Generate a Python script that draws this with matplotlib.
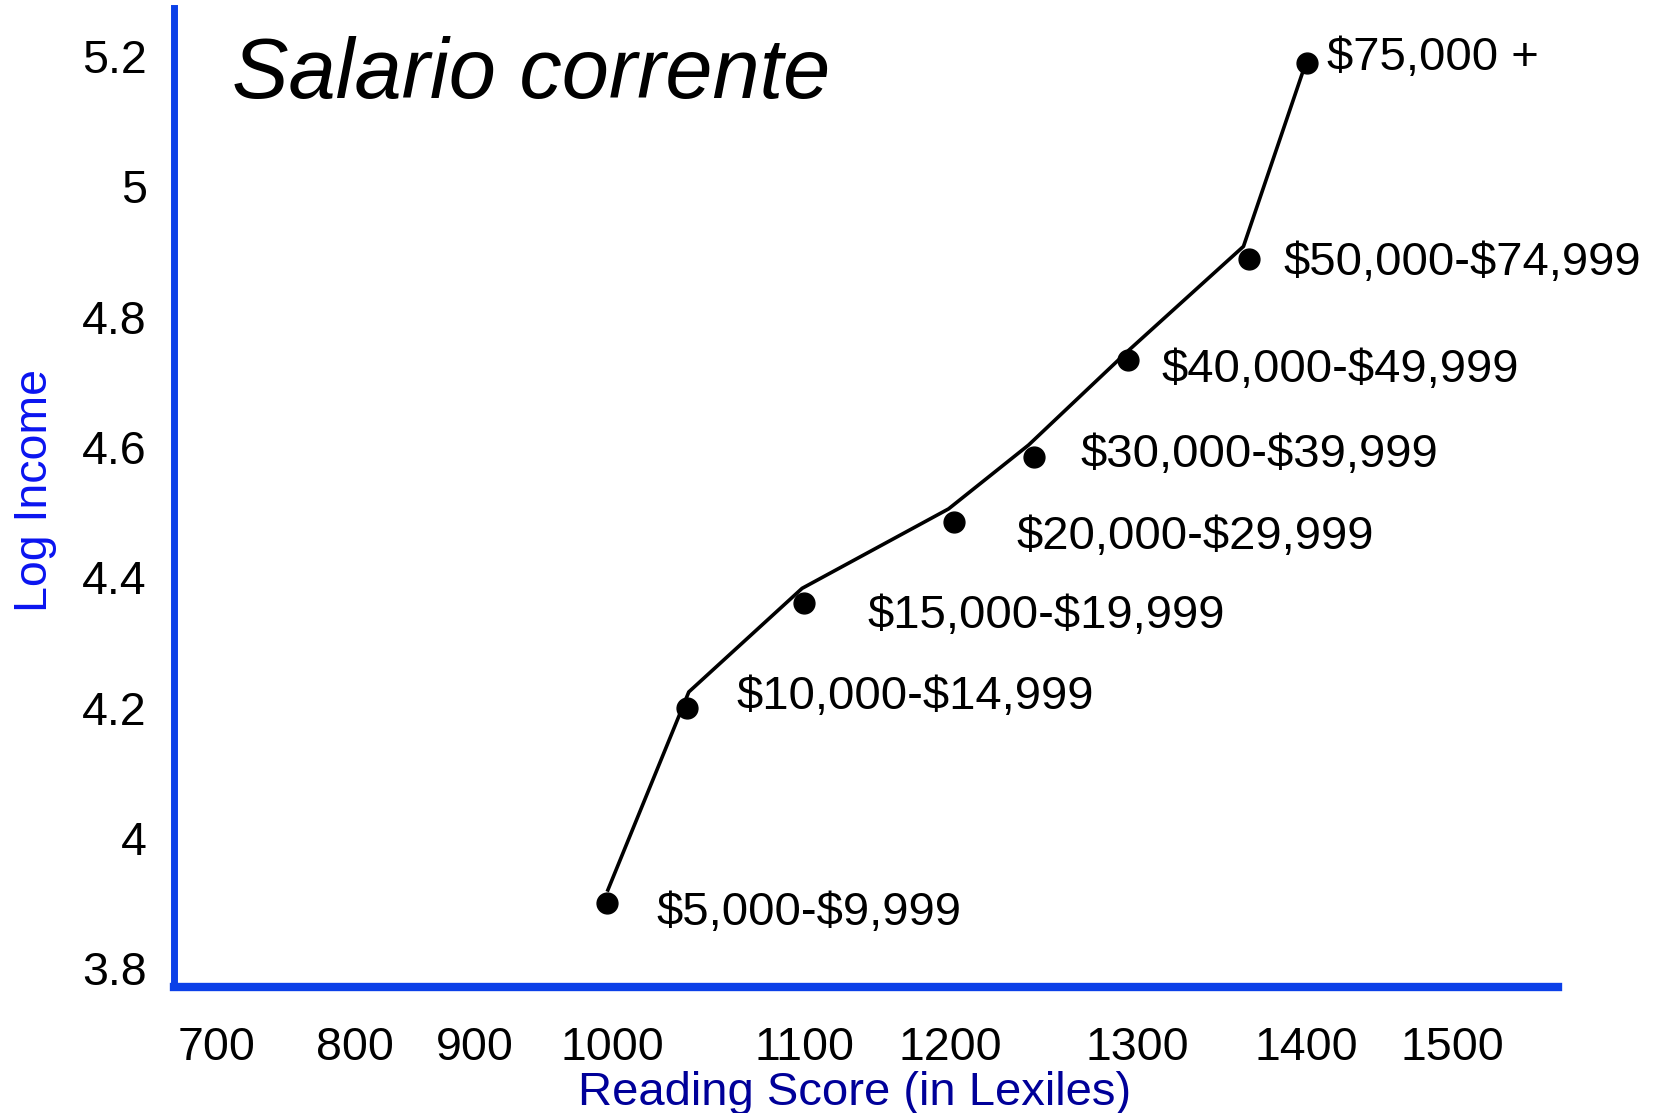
import numpy as np
import matplotlib
matplotlib.use('Agg')
import matplotlib.pyplot as plt
from matplotlib.ticker import FixedLocator, FixedFormatter

plt.rcParams['font.family'] = ['Liberation Sans', 'DejaVu Sans']
plt.rcParams['text.parse_math'] = False

# income groups and their mean reading score / log income
income_labels = ['$5,000-$9,999', '$10,000-$14,999', '$15,000-$19,999',
                 '$20,000-$29,999', '$30,000-$39,999', '$40,000-$49,999',
                 '$50,000-$74,999', '$75,000 +']
lexile = [996, 1039, 1100, 1202, 1245, 1295, 1366, 1401]
log_income = [3.900, 4.199, 4.360, 4.485, 4.584, 4.733, 4.888, 5.189]

# the connecting line (drawn a bit apart from the dots in the original)
line_lexile = [997, 1040, 1099, 1199, 1242, 1295, 1363, 1401]
line_log_income = [3.920, 4.224, 4.383, 4.505, 4.603, 4.747, 4.908, 5.197]

x_tick_values = [700, 800, 900, 1000, 1100, 1200, 1300, 1400, 1500]
y_tick_values = [3.8, 4.0, 4.2, 4.4, 4.6, 4.8, 5.0, 5.2]
y_tick_labels = ['3.8', '4', '4.2', '4.4', '4.6', '4.8', '5', '5.2']

# the x axis is not evenly spaced: piecewise linear scale through the ticks
lex_knots = np.array([669, 700, 800, 900, 1000, 1100, 1200, 1300, 1400, 1500, 1573], dtype=float)
pos_knots = np.array([0, 43, 181, 301, 438, 630, 776, 963, 1132, 1278, 1384], dtype=float)

def fwd(x):
    return np.interp(x, lex_knots, pos_knots)

def inv(p):
    return np.interp(p, pos_knots, lex_knots)

# label offsets from each dot, in pixels (dx, dy)
label_offsets = [(50, -10), (50, 11), (63, -13), (63, -15),
                 (46, 2), (34, -10), (35, -4), (20, 5)]

W, H = 1654, 1113
fig = plt.figure(figsize=(W / 100, H / 100), dpi=100)
ax = fig.add_axes([174 / W, 1 - 987 / H, (1558 - 174) / W, (987 - 8) / H])

ax.set_xscale('function', functions=(fwd, inv))
ax.set_xlim(669, 1573)
ax.set_ylim(3.771, 5.274)

ax.plot(line_lexile, line_log_income, color='black', lw=2.6, zorder=2)
ax.plot(lexile, log_income, 'o', color='black', markersize=15, zorder=3)

px = 0.72  # points per pixel at dpi 100
for lab, xv, yv, (dx, dy) in zip(income_labels, lexile, log_income, label_offsets):
    ax.annotate(lab, (xv, yv), xytext=(dx * px, dy * px), textcoords='offset points',
                ha='left', va='center', fontsize=34, color='black',
                annotation_clip=False)

ax.xaxis.set_major_locator(FixedLocator(x_tick_values))
ax.xaxis.set_major_formatter(FixedFormatter([str(v) for v in x_tick_values]))
ax.xaxis.set_minor_locator(FixedLocator([]))
ax.yaxis.set_major_locator(FixedLocator(y_tick_values))
ax.yaxis.set_major_formatter(FixedFormatter(y_tick_labels))
ax.tick_params(axis='x', length=0, pad=28, labelsize=33.5)
ax.tick_params(axis='y', length=0, pad=19.5, labelsize=33.5)

axis_blue = '#0b40e8'
for s in ['top', 'right']:
    ax.spines[s].set_visible(False)
ax.spines['left'].set_color(axis_blue)
ax.spines['left'].set_linewidth(5)
ax.spines['bottom'].set_color(axis_blue)
ax.spines['bottom'].set_linewidth(6)

fig.text(232 / W, 1 - 98 / H, 'Salario corrente', fontsize=61, style='italic',
         ha='left', va='baseline')
fig.text(855 / W, 1 - 1105 / H, 'Reading Score (in Lexiles)', fontsize=34,
         color='#000099', ha='center', va='baseline')
fig.text(35.5 / W, 1 - 491 / H, 'Log Income', fontsize=33.5, color='#0a14f0',
         rotation=90, ha='center', va='center')

fig.savefig('out.png', dpi=100)
